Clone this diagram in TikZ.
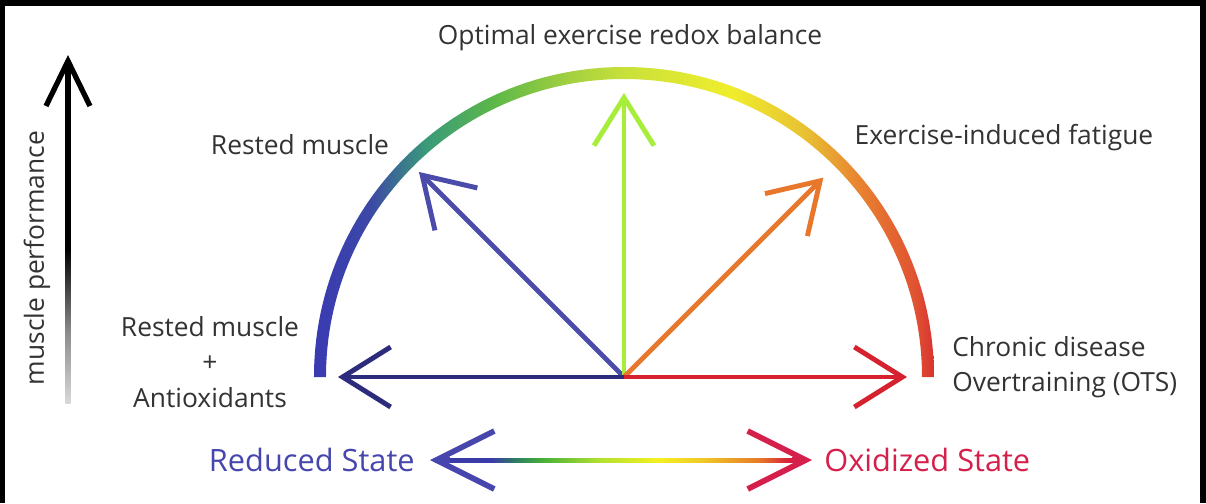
\documentclass[tikz,border=0pt]{standalone}
\usepackage{fontspec}
\setmainfont{Open Sans}
\usetikzlibrary{arrows.meta,calc,positioning}

\definecolor{txtgray}{HTML}{333333}
\definecolor{redblue}{HTML}{4646AE}
\definecolor{oxred}{HTML}{D4204A}
\definecolor{navy}{HTML}{2C2B7C}
\definecolor{slate}{HTML}{4B4BAA}
\definecolor{lime}{HTML}{A6EE3A}
\definecolor{orng}{HTML}{E8772C}
\definecolor{crim}{HTML}{D6222E}
% arc colours, left to right
\definecolor{arcA}{HTML}{3A3AB2}
\definecolor{arcB}{HTML}{3C48A6}
\definecolor{arcC}{HTML}{3A9A7A}
\definecolor{arcD}{HTML}{5CB848}
\definecolor{arcE}{HTML}{A2D040}
\definecolor{arcF}{HTML}{C8E03A}
\definecolor{arcG}{HTML}{F0EE2C}
\definecolor{arcH}{HTML}{E8C232}
\definecolor{arcI}{HTML}{E88230}
\definecolor{arcJ}{HTML}{E05232}
\definecolor{arcK}{HTML}{D83232}
% bottom shaft colours
\definecolor{shA}{HTML}{3A3AA8}
\definecolor{shB}{HTML}{2E8060}
\definecolor{shC}{HTML}{48B038}
\definecolor{shD}{HTML}{B0E030}
\definecolor{shE}{HTML}{F4F020}
\definecolor{shF}{HTML}{F0C828}
\definecolor{shG}{HTML}{E87A28}
\definecolor{shH}{HTML}{D8203C}
\definecolor{perfA}{HTML}{D8D8D8}
\definecolor{perfB}{HTML}{8A8A8A}

\pgfdeclarehorizontalshading{arcshade}{100bp}{color(0bp)=(arcA); color(25bp)=(arcA);
  color(29.5bp)=(arcB); color(34bp)=(arcC); color(39.5bp)=(arcD); color(45.5bp)=(arcE);
  color(50bp)=(arcF); color(58.5bp)=(arcG); color(64.5bp)=(arcH); color(69bp)=(arcI);
  color(73.5bp)=(arcJ); color(75bp)=(arcK); color(100bp)=(arcK)}
\pgfdeclarehorizontalshading{shaftshade}{100bp}{color(0bp)=(shA); color(32.5bp)=(shA);
  color(36bp)=(shB); color(39.5bp)=(shC); color(47bp)=(shD); color(55bp)=(shE);
  color(61bp)=(shF); color(68.5bp)=(shG); color(72.5bp)=(shH); color(100bp)=(shH)}
\pgfdeclareverticalshading{perfshade}{100bp}{color(0bp)=(perfA); color(25bp)=(perfA);
  color(35.5bp)=(perfB); color(47.5bp)=(black); color(100bp)=(black)}

\begin{document}
\begin{tikzpicture}[
  font=\fontsize{15}{18}\selectfont,
  ray/.style={line width=2.8pt,-{Straight Barb[length=0.96cm,width=1.2cm]}},
  lbl/.style={text=txtgray,inner sep=0pt},
  state/.style={font=\fontsize{17.5}{21}\selectfont,inner sep=0pt}
]
% frame
\useasboundingbox (-12.48,-2.52) rectangle (11.64,7.54);
\fill[white] (-12.48,-2.52) rectangle (11.64,7.54);
\fill[black] (-12.48,7.42) rectangle (11.64,7.54);
\fill[black] (-12.48,-2.52) rectangle (-12.38,7.54);
\fill[black] (11.52,-2.52) rectangle (11.64,7.54);

% redox arc
\shade[shading=arcshade] (-6.2,0) arc[start angle=180,end angle=0,radius=6.2]
  -- (5.96,0) arc[start angle=0,end angle=180,radius=5.96] -- cycle;

% rays from the centre
\coordinate (O) at (0,0);
\coordinate (tipL) at (180:5.72);
\coordinate (tipUL) at (135:5.8);
\coordinate (tipU) at (90:5.68);
\coordinate (tipUR) at (45:5.64);
\coordinate (tipR) at (0:5.66);
\draw[ray,slate] (O) -- (tipUL);
\draw[ray,lime] (O) -- (tipU);
\draw[ray,orng] (O) -- (tipUR);
\draw[ray,navy] (O) -- (tipL);
\draw[ray,crim] (O) -- (tipR);

% labels
\node[lbl] (opt) at (0.12,6.78) {Optimal exercise redox balance};
\node[lbl] (rest) at (-6.48,4.64) {Rested muscle};
\node[lbl] (fatig) at (7.6,4.78) {Exercise-induced fatigue};
\node[lbl,align=center,font=\fontsize{15}{20.4}\selectfont] (anti) at (-8.28,0.3)
  {Rested muscle\\+\\Antioxidants};
\node[lbl,align=left,anchor=west,font=\fontsize{15}{19.8}\selectfont] (chron) at (6.56,0.2)
  {Chronic disease\\Overtraining (OTS)};

% reduced / oxidized
\coordinate (redtip) at (-3.88,-1.66);
\coordinate (oxtip) at (3.76,-1.66);
\node[state,text=redblue,left=0.3cm of redtip] (red) {Reduced State};
\node[state,text=oxred,right=0.24cm of oxtip] (ox) {Oxidized State};
\shade[shading=shaftshade] ($(redtip)+(0.1,-0.04)$) rectangle ($(oxtip)+(-0.1,0.04)$);
\draw[line width=3.2pt,redblue,-{Straight Barb[length=1.16cm,width=1.16cm]}]
  ($(redtip)+(0.4,0)$) -- (redtip);
\draw[line width=3.2pt,oxred,-{Straight Barb[length=1.16cm,width=1.16cm]}]
  ($(oxtip)-(0.4,0)$) -- (oxtip);

% muscle performance axis
\coordinate (pbot) at (-11.12,-0.52);
\coordinate (ptop) at (-11.12,6.44);
\shade[shading=perfshade] ($(pbot)+(-0.05,0)$) rectangle ($(ptop)+(0.05,-0.1)$);
\draw[line width=3pt,-{Straight Barb[length=0.9cm,width=0.88cm]}]
  ($(ptop)-(0,0.4)$) -- (ptop);
\node[lbl,rotate=90] (perf) at (-11.74,2.38) {muscle performance};
\end{tikzpicture}
\end{document}
